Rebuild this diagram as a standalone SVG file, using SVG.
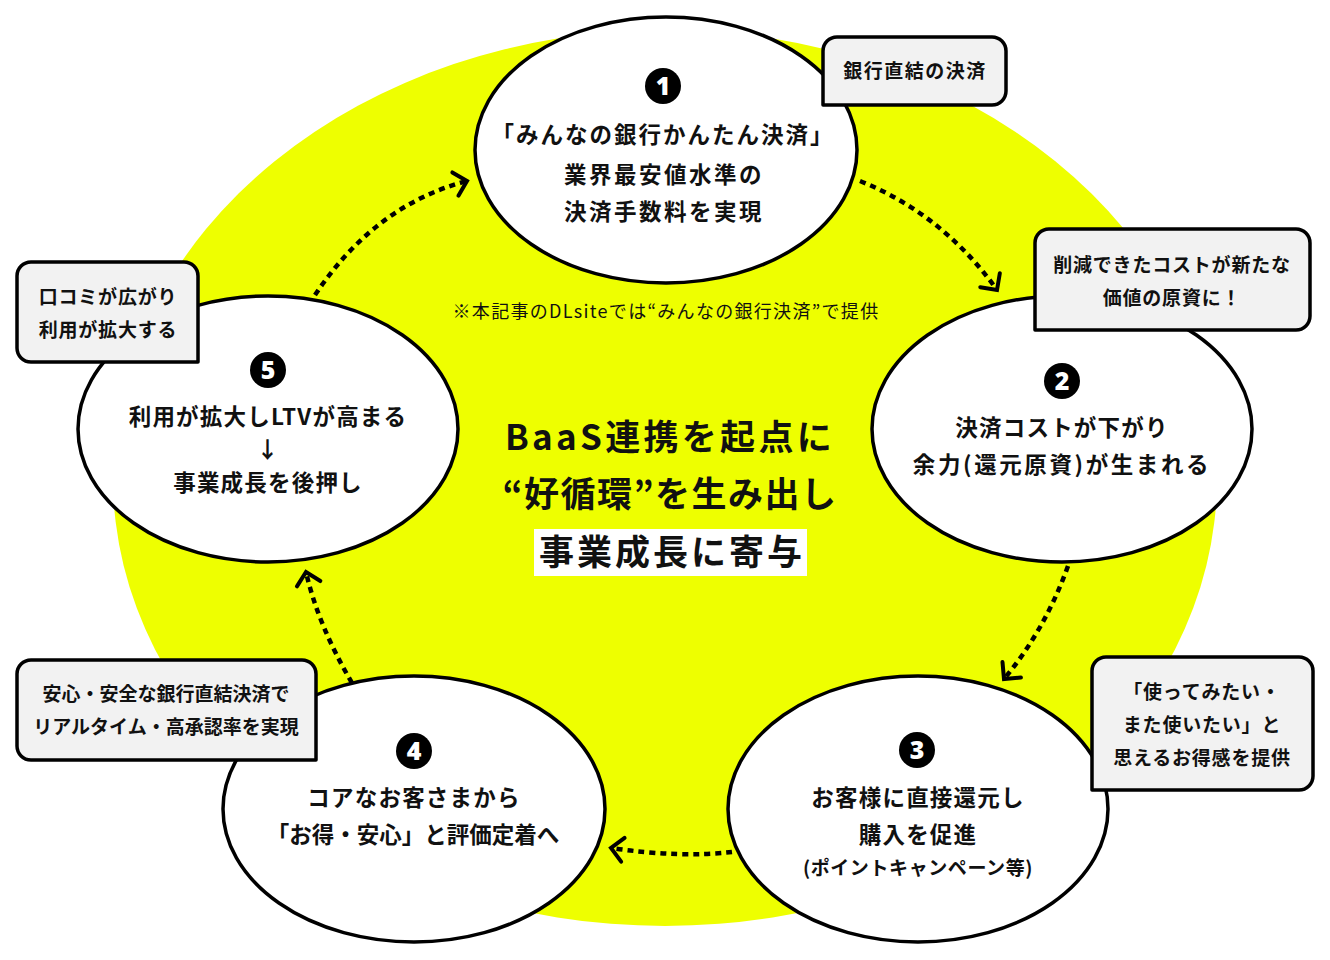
<svg xmlns="http://www.w3.org/2000/svg" width="1330" height="960" viewBox="0 0 1330 960">
  <defs>
    <style>
      .bg { fill: #eeff00; }
      .node { fill: #ffffff; stroke: #000000; stroke-width: 3.5; }
      .call { fill: #f2f2f2; stroke: #000000; stroke-width: 3.5; stroke-linejoin: round; }
      .num { fill: #000000; }
      .numt { fill: #ffffff; font-family: "Noto Sans", "DejaVu Sans", sans-serif; font-weight: 900; font-size: 25px; text-anchor: middle; }
      .jp { font-family: "Noto Sans CJK JP", sans-serif; font-weight: 700; fill: #111111; text-anchor: middle; }
      .nt { font-size: 22.5px; letter-spacing: 1.2px; }
      .ct { font-size: 19px; letter-spacing: 0.8px; }
      .big { font-size: 35px; letter-spacing: 3.3px; }
      .note { font-family: "Noto Sans CJK JP", sans-serif; font-weight: 400; font-size: 18px; letter-spacing: 1.3px; fill: #111111; text-anchor: middle; }
      .conn { fill: none; stroke: #000000; stroke-width: 4.5; stroke-dasharray: 6 5; }
    </style>
    <marker id="chev" markerUnits="userSpaceOnUse" viewBox="-18 -16 24 32" refX="0" refY="0" markerWidth="24" markerHeight="32" orient="auto" overflow="visible">
      <path d="M-12,-12 L0,0 L-12,12" fill="none" stroke="#000000" stroke-width="4" stroke-linecap="round" stroke-linejoin="miter"/>
    </marker>
  </defs>

  <rect x="0" y="0" width="1330" height="960" fill="#ffffff"/>
  <ellipse class="bg" cx="665" cy="478" rx="552" ry="448"/>

  <g id="center-text">
    <text class="note" x="666" y="318">※本記事のDLsiteでは“みんなの銀行決済”で提供</text>
    <text class="jp big" x="670" y="450">BaaS連携を起点に</text>
    <text class="jp big" x="670" y="507" style="letter-spacing:1.5px">“好循環”を生み出し</text>
    <rect x="534" y="529" width="273" height="47" fill="#ffffff"/>
    <text class="jp big" x="672" y="565" style="letter-spacing:3px">事業成長に寄与</text>
  </g>

  <g id="connectors">
    <path class="conn" d="M860,181 C920,205 965,245 997,290" marker-end="url(#chev)"/>
    <path class="conn" d="M1068,566 Q1045,630 1004,679" marker-end="url(#chev)"/>
    <path class="conn" d="M732,852 Q680,858 611,848" marker-end="url(#chev)"/>
    <path class="conn" d="M352,683 Q318,625 306,572" marker-end="url(#chev)"/>
    <path class="conn" d="M315,295 Q375,205 467,181" marker-end="url(#chev)"/>
  </g>

  <g id="node1">
    <ellipse class="node" cx="666" cy="150" rx="191" ry="133"/>
    <circle class="num" cx="663" cy="86" r="18"/>
    <text class="numt" x="663" y="95">1</text>
    <text class="jp nt" x="663" y="143" style="letter-spacing:2px">「みんなの銀行かんたん決済」</text>
    <text class="jp nt" x="664" y="183" style="letter-spacing:2.5px">業界最安値水準の</text>
    <text class="jp nt" x="664" y="220" style="letter-spacing:2.5px">決済手数料を実現</text>
  </g>

  <g id="node2">
    <ellipse class="node" cx="1062" cy="429" rx="190" ry="133"/>
    <circle class="num" cx="1062" cy="381" r="18"/>
    <text class="numt" x="1062" y="390">2</text>
    <text class="jp nt" x="1062" y="436">決済コストが下がり</text>
    <text class="jp nt" x="1062" y="473" style="letter-spacing:2.6px">余力(還元原資)が生まれる</text>
  </g>

  <g id="node3">
    <ellipse class="node" cx="918" cy="809" rx="190" ry="133"/>
    <circle class="num" cx="917" cy="750" r="18"/>
    <text class="numt" x="917" y="759">3</text>
    <text class="jp nt" x="918" y="806">お客様に直接還元し</text>
    <text class="jp nt" x="918" y="843">購入を促進</text>
    <text class="jp" x="918" y="875" style="font-size:19px;letter-spacing:0.6px">(ポイントキャンペーン等)</text>
  </g>

  <g id="node4">
    <ellipse class="node" cx="414" cy="809" rx="191" ry="133"/>
    <circle class="num" cx="414" cy="751" r="18"/>
    <text class="numt" x="414" y="760">4</text>
    <text class="jp nt" x="414" y="806">コアなお客さまから</text>
    <text class="jp nt" x="413" y="843" style="letter-spacing:0px">「お得・安心」と評価定着へ</text>
  </g>

  <g id="node5">
    <ellipse class="node" cx="268" cy="429" rx="190" ry="133"/>
    <circle class="num" cx="268" cy="370" r="18"/>
    <text class="numt" x="268" y="379">5</text>
    <text class="jp nt" x="268" y="425">利用が拡大しLTVが高まる</text>
    <text class="jp nt" x="268" y="458">↓</text>
    <text class="jp nt" x="268" y="491">事業成長を後押し</text>
  </g>

  <g id="callout1">
    <path class="call" d="M823,105 L823,51 A14,14 0 0 1 837,37 L992,37 A14,14 0 0 1 1006,51 L1006,91 A14,14 0 0 1 992,105 Z"/>
    <text class="jp ct" x="915" y="78" style="letter-spacing:1.5px">銀行直結の決済</text>
  </g>

  <g id="callout2">
    <path class="call" d="M1035,330 L1035,243 A14,14 0 0 1 1049,229 L1296,229 A14,14 0 0 1 1310,243 L1310,316 A14,14 0 0 1 1296,330 Z"/>
    <text class="jp ct" x="1172" y="272">削減できたコストが新たな</text>
    <text class="jp ct" x="1172" y="305">価値の原資に！</text>
  </g>

  <g id="callout3">
    <path class="call" d="M1092,790 L1092,671 A14,14 0 0 1 1106,657 L1299,657 A14,14 0 0 1 1313,671 L1313,776 A14,14 0 0 1 1299,790 Z"/>
    <text class="jp ct" x="1202" y="699">「使ってみたい・</text>
    <text class="jp ct" x="1202" y="732">また使いたい」と</text>
    <text class="jp ct" x="1202" y="765">思えるお得感を提供</text>
  </g>

  <g id="callout4">
    <path class="call" d="M316,760 L31,760 A14,14 0 0 1 17,746 L17,674 A14,14 0 0 1 31,660 L302,660 A14,14 0 0 1 316,674 Z"/>
    <text class="jp ct" x="166" y="701" style="letter-spacing:0px">安心・安全な銀行直結決済で</text>
    <text class="jp ct" x="166" y="734" style="letter-spacing:0px">リアルタイム・高承認率を実現</text>
  </g>

  <g id="callout5">
    <path class="call" d="M198,362 L31,362 A14,14 0 0 1 17,348 L17,276 A14,14 0 0 1 31,262 L184,262 A14,14 0 0 1 198,276 Z"/>
    <text class="jp ct" x="108" y="304">口コミが広がり</text>
    <text class="jp ct" x="108" y="337">利用が拡大する</text>
  </g>
</svg>
